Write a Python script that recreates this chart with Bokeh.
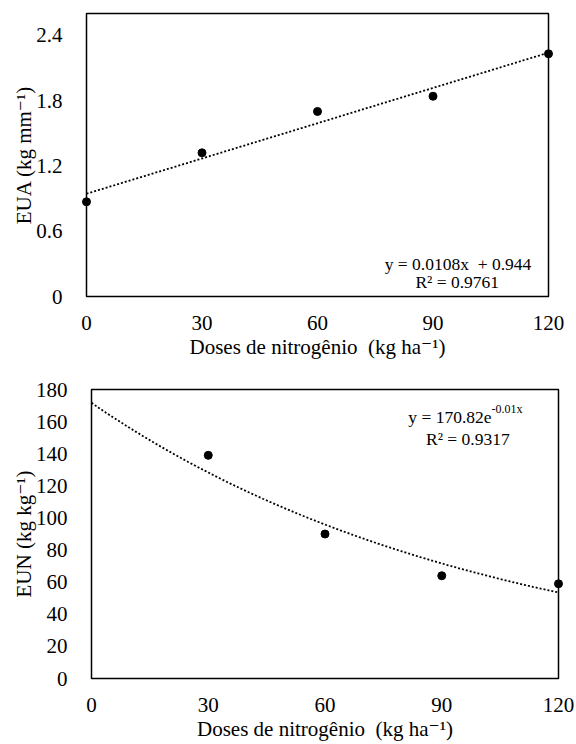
import numpy as np
from bokeh.plotting import figure
from bokeh.models import Range1d, FixedTicker, Label
from bokeh.layouts import column, row
from bokeh.embed import file_html
from bokeh.resources import INLINE

# ---- data ----
doses_eua = [0, 30, 60, 90, 120]
eua = [0.87, 1.32, 1.70, 1.84, 2.23]
doses_eun = [30, 60, 90, 120]
eun = [139, 90, 64, 59]

x_ticks = [0, 30, 60, 90, 120]
x_tick_labels = ["0", "30", "60", "90", "120"]
eua_ticks = [0, 0.6, 1.2, 1.8, 2.4]
eua_tick_labels = ["0", "0.6", "1.2", "1.8", "2.4"]
eun_ticks = [0, 20, 40, 60, 80, 100, 120, 140, 160, 180]
eun_tick_labels = ["0", "20", "40", "60", "80", "100", "120", "140", "160", "180"]

x_label = "Doses de nitrogênio\u00a0\u00a0(kg ha\u207b\u00b9)"
eua_label = "EUA (kg mm\u207b\u00b9)"
eun_label = "EUN (kg kg\u207b\u00b9)"
eua_eq = "y = 0.0108x\u00a0 + 0.944"
eua_r2 = "R\u00b2 = 0.9761"
eun_eq_base = "y = 170.82e"
eun_eq_sup = "-0.01x"
eun_r2 = "R\u00b2 = 0.9317"

FONT = "'Liberation Serif', 'Times New Roman', Tinos, 'DejaVu Serif', serif"


def style(p, xt, xtl, yt, ytl, xlab, ylab):
    p.xaxis.ticker = FixedTicker(ticks=xt)
    p.xaxis.major_label_overrides = dict(zip(xt, xtl))
    p.yaxis.ticker = FixedTicker(ticks=yt)
    p.yaxis.major_label_overrides = dict(zip(yt, ytl))
    p.xaxis.axis_label = xlab
    p.yaxis.axis_label = ylab
    p.xgrid.visible = False
    p.ygrid.visible = False
    p.outline_line_color = "black"
    p.outline_line_width = 1.5
    p.outline_line_alpha = 1.0
    p.background_fill_color = "white"
    p.border_fill_color = "white"
    for ax in (p.xaxis[0], p.yaxis[0]):
        ax.axis_line_color = None
        ax.major_tick_line_color = None
        ax.minor_tick_line_color = None
        ax.major_label_text_font = FONT
        ax.major_label_text_font_size = "21px"
        ax.major_label_text_color = "black"
        ax.axis_label_text_font = FONT
        ax.axis_label_text_font_style = "normal"
        ax.axis_label_text_font_size = "21px"
        ax.axis_label_text_color = "black"
    p.xaxis.major_label_standoff = 13
    p.xaxis.axis_label_standoff = 2
    p.yaxis.major_label_standoff = 18
    p.yaxis.axis_label_standoff = -3


# ---- top chart: EUA ----
p1 = figure(width=576, height=365, x_range=Range1d(0, 120), y_range=Range1d(0, 2.6),
            output_backend="svg", toolbar_location=None,
            min_border_left=86, min_border_right=28, min_border_top=13, min_border_bottom=69)
style(p1, x_ticks, x_tick_labels, eua_ticks, eua_tick_labels, x_label, eua_label)

c1 = np.polyfit(doses_eua, eua, 1)
xs1 = np.linspace(0, 120, 200)
p1.line(xs1, np.polyval(c1, xs1), line_color="black", line_width=1.8, line_dash="2 2")
r = p1.scatter(doses_eua, eua, size=8, color="black")
r.level = "overlay"

for txt, xx, yy in [(eua_eq, 96.5, 0.30), (eua_r2, 96.3, 0.13)]:
    p1.add_layout(Label(x=xx, y=yy, text=txt, text_font=FONT, text_font_size="17.5px",
                        text_align="center", text_baseline="alphabetic", text_color="black"))

# ---- bottom chart: EUN ----
p2 = figure(width=576, height=379, x_range=Range1d(0, 120), y_range=Range1d(0, 180),
            output_backend="svg", toolbar_location=None,
            min_border_left=91, min_border_right=18, min_border_top=24, min_border_bottom=66)
style(p2, x_ticks, x_tick_labels, eun_ticks, eun_tick_labels, x_label, eun_label)

c2 = np.polyfit(doses_eun, np.log(eun), 1)
xs2 = np.linspace(0, 120, 200)
p2.line(xs2, np.exp(np.polyval(c2, xs2)), line_color="black", line_width=1.8, line_dash="2 2")
r2 = p2.scatter(doses_eun, eun, size=8, color="black")
r2.level = "overlay"

p2.add_layout(Label(x=102.8, y=163.1, text=eun_eq_base, text_font=FONT, text_font_size="17.5px",
                    text_align="right", text_baseline="alphabetic", text_color="black"))
p2.add_layout(Label(x=102.8, y=167.7, text=eun_eq_sup, text_font=FONT, text_font_size="12px",
                    text_align="left", text_baseline="alphabetic", text_color="black"))
p2.add_layout(Label(x=96.7, y=148.9, text=eun_r2, text_font=FONT, text_font_size="17.5px",
                    text_align="center", text_baseline="alphabetic", text_color="black"))

layout = column(row(p1), row(p2), spacing=0)
open("out.html", "w").write(file_html(layout, INLINE))
